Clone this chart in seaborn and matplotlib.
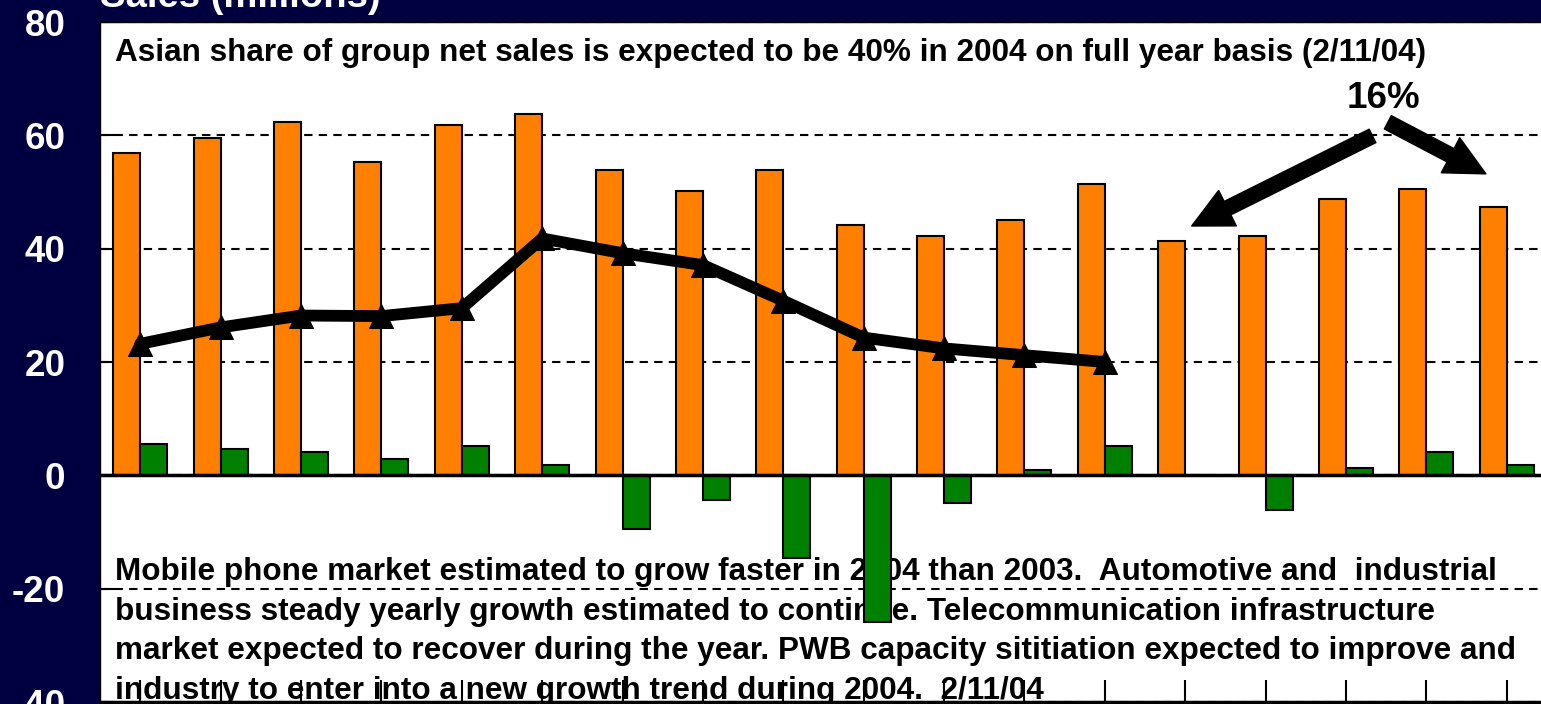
import matplotlib
matplotlib.use("Agg")
import matplotlib.pyplot as plt
import seaborn as sns
import pandas as pd
import numpy as np

# data
periods = ["00Q1", "00Q2", "00Q3", "00Q4", "01Q1", "01Q2", "01Q3", "01Q4", "02Q1",
           "02Q2", "02Q3", "02Q4", "03Q1", "03Q2", "03Q3", "03Q4", "04Q1", "04Q2"]
net_sales = [56.8, 59.6, 62.4, 55.3, 61.9, 63.8, 53.9, 50.2, 53.9,
             44.1, 42.2, 45.0, 51.5, 41.3, 42.2, 48.7, 50.6, 47.3]
growth = [5.6, 4.6, 4.2, 2.8, 5.2, 1.9, -9.4, -4.3, -14.5,
          -25.9, -4.8, 0.9, 5.1, 0.0, -6.2, 1.3, 4.2, 1.8]
line_values = [23.2, 26.1, 28.2, 28.1, 29.5, 41.8, 39.2, 37.1, 30.8, 24.3, 22.4, 21.2, 20.0]
y_ticks = [-40, -20, 0, 20, 40, 60, 80]

title_text = "Sales (millions)"
top_note = "Asian share of group net sales is expected to be 40% in 2004 on full year basis (2/11/04)"
bottom_note = [
    "Mobile phone market estimated to grow faster in 2004 than 2003.  Automotive and  industrial",
    "business steady yearly growth estimated to continue. Telecommunication infrastructure",
    "market expected to recover during the year. PWB capacity sititiation expected to improve and",
    "industry to enter into a new growth trend during 2004.  2/11/04",
]
pct_label = "16%"

navy = "#000040"
colors = {"sales": "#FF8000", "growth": "#008000"}

sns.set_style("white")
plt.rcParams["font.family"] = ["Liberation Sans", "DejaVu Sans"]
plt.rcParams["font.weight"] = "bold"
plt.rcParams["axes.unicode_minus"] = False

df = pd.DataFrame({
    "period": periods * 2,
    "value": net_sales + growth,
    "series": ["sales"] * len(periods) + ["growth"] * len(periods),
})

fig = plt.figure(figsize=(15.41, 7.04), dpi=100)
fig.patch.set_facecolor(navy)
ax = fig.add_axes([100 / 1541, 2 / 704, 1447 / 1541, 680 / 704])
ax.set_facecolor("white")

sns.barplot(data=df, x="period", y="value", hue="series", palette=colors,
            saturation=1, width=0.672, edgecolor="black", linewidth=1.5,
            errorbar=None, legend=False, ax=ax, zorder=2)
sns.lineplot(x=np.arange(len(line_values)), y=line_values, color="black",
             linewidth=8.5, marker="^", markersize=17, markeredgecolor="black",
             ax=ax, zorder=4)

ax.axhline(0, color="black", lw=2.5, zorder=3)
ax.set_xlim(-0.5, len(periods) - 0.5)
ax.set_ylim(-40, 80)
ax.set_yticks(y_ticks)
ax.set_xticks(np.arange(len(periods)))
ax.set_xticklabels([])
ax.set_xlabel("")
ax.set_ylabel("")
ax.yaxis.grid(True, linestyle=(0, (4, 3)), color="black", lw=1.5)
ax.tick_params(axis="y", left=True, direction="in", length=11, width=1.5, color="black",
               labelcolor="white", labelsize=26.5, pad=25)
ax.tick_params(axis="x", bottom=True, direction="in", length=16, width=1.5, color="black")
for lab in ax.get_yticklabels():
    lab.set_fontweight("bold")
for side in ["top", "left", "right"]:
    ax.spines[side].set_linewidth(1)
    ax.spines[side].set_color("black")
ax.spines["bottom"].set_linewidth(2.5)
ax.spines["bottom"].set_color("black")

# texts sit behind the bars and ticks
ax.text(-0.313, 73.1, top_note, fontsize=22.7, fontweight="bold", color="black",
        va="baseline", ha="left", zorder=1)
for i, line in enumerate(bottom_note):
    ax.text(-0.313, -18.5 - 7.0 * i, line, fontsize=22.7, fontweight="bold",
            color="black", va="baseline", ha="left", zorder=1)
ax.text(15.46, 66.5, pct_label, fontsize=26.5, fontweight="bold", color="black",
        ha="center", va="center", zorder=5)

arrow_style = "simple,head_length=0.96,head_width=0.95,tail_width=0.36"
for tail, tip in [((15.33, 59.9), (13.08, 44.0)), ((15.52, 62.3), (16.74, 53.2))]:
    ax.annotate("", xy=tip, xytext=tail,
                arrowprops=dict(arrowstyle=arrow_style, color="black",
                                mutation_scale=30, shrinkA=0, shrinkB=0),
                zorder=5)

fig.text(100 / 1541, 1 - 7 / 704, title_text, color="white", fontsize=27.5,
         fontweight="bold", ha="left", va="baseline")

fig.savefig("out.png", dpi=100, facecolor=navy)
